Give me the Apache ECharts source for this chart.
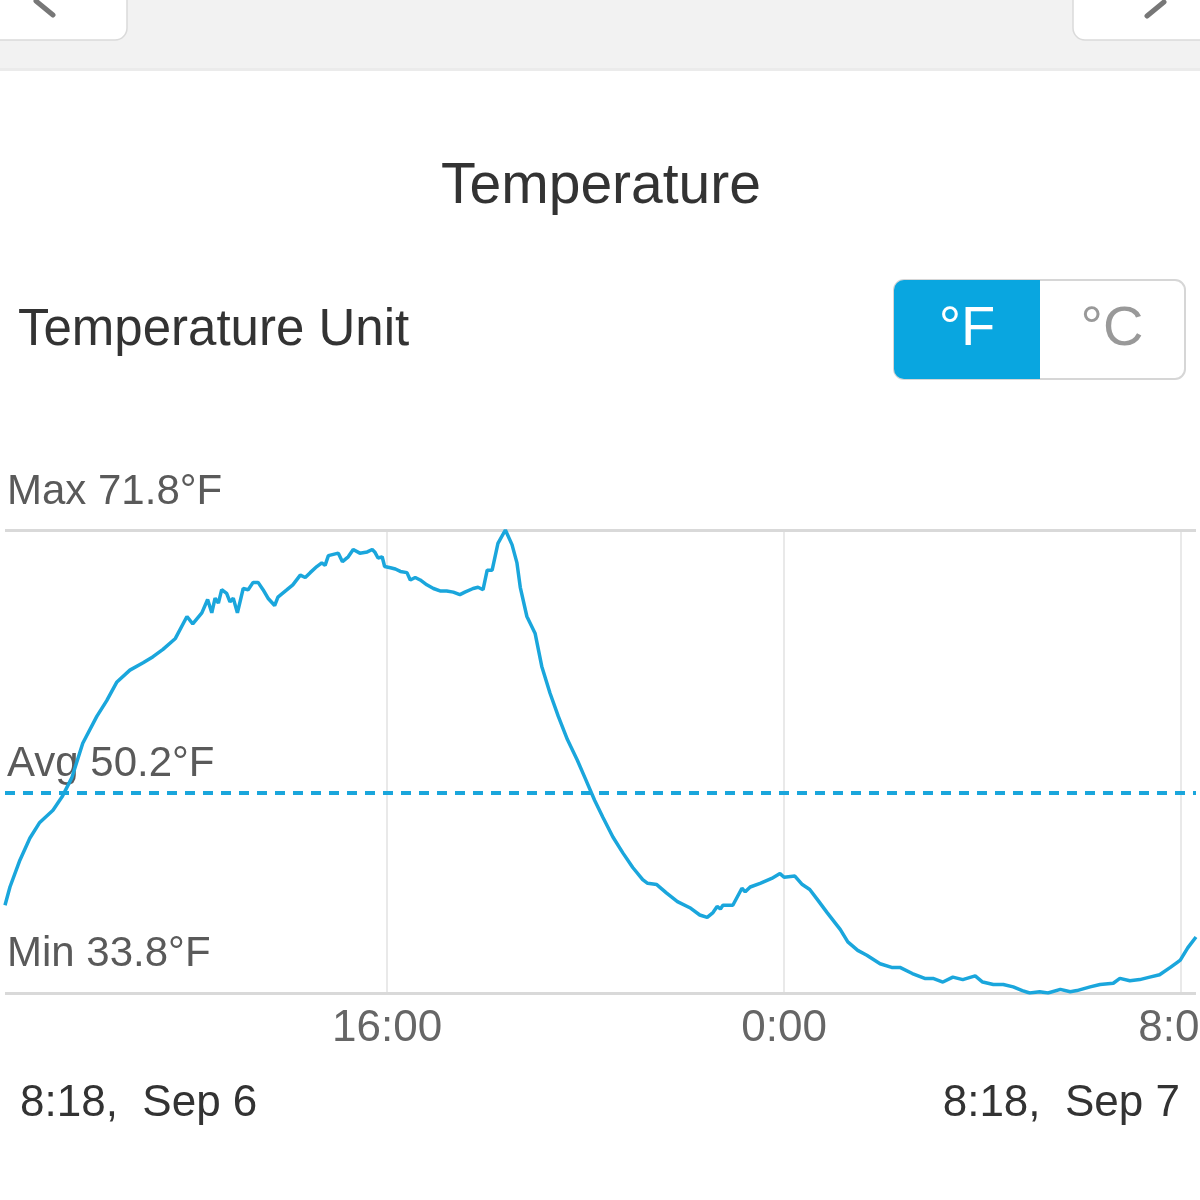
<!DOCTYPE html>
<html>
<head>
<meta charset="utf-8">
<script src="https://cdn.jsdelivr.net/npm/echarts@6/dist/echarts.min.js"></script>
<style>
  html, body { margin: 0; padding: 0; background: #fff; }
  #chart { width: 1200px; height: 1200px; }
</style>
</head>
<body>
<div id="chart"></div>
<script>
// minutes after 8:18, Sep 6
const minutes = [
  0, 6, 18, 30, 42, 58, 69, 81, 94, 111,
  123, 135, 151, 167, 179, 191, 206, 220, 227, 238,
  245, 250, 254, 258, 262, 268, 272, 276, 281, 288,
  294, 300, 306, 312, 318, 326, 330, 341, 348, 357,
  363, 369, 377, 383, 387, 391, 403, 408, 415, 421,
  429, 438, 444, 447, 451, 456, 459, 466, 472, 478,
  486, 490, 496, 502, 510, 518, 526, 534, 542, 550,
  556, 566, 572, 578, 583, 589, 596, 605, 613, 619,
  623, 631, 641, 649, 659, 669, 680, 692, 701, 713,
  723, 735, 747, 759, 771, 777, 788, 800, 813, 828,
  840, 849, 856, 861, 865, 868, 880, 891, 895, 901,
  913, 927, 937, 942, 955, 964, 973, 983, 994, 1010,
  1019, 1031, 1042, 1058, 1072, 1082, 1097, 1112, 1122, 1134,
  1146, 1158, 1173, 1182, 1195, 1207, 1219, 1230, 1239, 1251,
  1261, 1276, 1288, 1296, 1312, 1324, 1340, 1348, 1360, 1372,
  1384, 1396, 1409, 1417, 1421, 1430, 1440
];
// temperature, °F
const tempF = [
  41.0, 42.5, 44.7, 46.5, 47.8, 48.8, 49.9, 51.5, 54.3, 56.5,
  57.8, 59.3, 60.3, 60.9, 61.4, 62.0, 62.9, 64.7, 64.1, 65.0,
  66.1, 65.0, 66.2, 65.8, 66.9, 66.6, 65.9, 66.2, 65.0, 67.0,
  66.9, 67.5, 67.5, 66.9, 66.2, 65.6, 66.3, 66.9, 67.3, 68.1,
  67.9, 68.3, 68.8, 69.1, 68.9, 69.7, 69.9, 69.2, 69.6, 70.2,
  69.9, 70.0, 70.2, 70.0, 69.5, 69.6, 68.8, 68.7, 68.6, 68.4,
  68.3, 67.7, 67.9, 67.7, 67.3, 67.0, 66.8, 66.8, 66.7, 66.5,
  66.7, 67.0, 67.1, 66.9, 68.5, 68.5, 70.7, 71.8, 70.6, 69.1,
  67.1, 64.7, 63.3, 60.6, 58.4, 56.5, 54.6, 52.9, 51.5, 49.6,
  48.2, 46.6, 45.3, 44.1, 43.1, 42.8, 42.7, 42.0, 41.3, 40.8,
  40.2, 40.0, 40.4, 40.9, 40.7, 41.0, 41.0, 42.4, 42.1, 42.5,
  42.8, 43.2, 43.6, 43.3, 43.4, 42.7, 42.3, 41.4, 40.4, 39.0,
  38.0, 37.3, 36.9, 36.2, 35.9, 35.9, 35.4, 35.0, 35.0, 34.7,
  35.1, 34.9, 35.2, 34.7, 34.5, 34.5, 34.3, 34.0, 33.8, 33.9,
  33.8, 34.1, 33.9, 34.0, 34.3, 34.5, 34.6, 35.0, 34.8, 34.9,
  35.1, 35.3, 35.9, 36.3, 36.5, 37.5, 38.4
];
const tickMinutes = [462, 942, 1422];
const tickLabels = ['16:00', '0:00', '8:00'];
const maxF = 71.8;
const avgF = 50.2;
const minF = 33.8;
const startLabel = '8:18,  Sep 6';
const endLabel = '8:18,  Sep 7';

const font = '"Liberation Sans", Arial, sans-serif';
const blue = '#1aa6dc';

let myChart = echarts.init(document.getElementById('chart'));

// text sitting just above a guide line
const guideLabel = function (txt, gap) {
  return {
    show: true,
    position: 'insideStartTop',
    formatter: txt,
    fontSize: 42,
    color: '#5a5a5a',
    fontFamily: font,
    distance: [2, gap]
  };
};

myChart.setOption({
  animation: false,
  backgroundColor: '#fff',
  textStyle: { fontFamily: font },
  grid: { left: 5, right: 4, top: 530, bottom: 207, outerBoundsMode: 'none', containLabel: false },
  xAxis: {
    type: 'value',
    min: 0,
    max: 1440,
    axisLine: { show: false },
    axisTick: { show: false },
    splitLine: { show: false },
    axisLabel: {
      customValues: tickMinutes,
      formatter: function (v) {
        return tickLabels[tickMinutes.indexOf(v)];
      },
      fontSize: 44,
      color: '#666',
      margin: 14,
      fontFamily: font
    }
  },
  yAxis: {
    type: 'value',
    min: minF,
    max: maxF,
    show: false,
    splitLine: { show: false }
  },
  series: [{
    type: 'line',
    data: minutes.map((m, i) => [m, tempF[i]]),
    symbol: 'none',
    lineStyle: { color: blue, width: 3.5 },
    z: 3,
    markLine: {
      silent: true,
      symbol: ['none', 'none'],
      z: 2,
      data: [
        ...tickMinutes.map(m => ({
          xAxis: m,
          label: { show: false },
          lineStyle: { color: '#e2e2e2', width: 1.5, type: 'solid' }
        })),
        { yAxis: maxF, label: guideLabel('Max ' + maxF + '°F', 17),
          lineStyle: { color: '#d9d9d9', width: 3, type: 'solid' } },
        { yAxis: minF, label: guideLabel('Min ' + minF + '°F', 18),
          lineStyle: { color: '#d9d9d9', width: 3, type: 'solid' } },
        { yAxis: avgF, label: guideLabel('Avg ' + avgF + '°F', 8),
          lineStyle: { color: blue, width: 4, type: [10, 8] } }
      ]
    }
  }],
  graphic: [
    // top bar
    { type: 'rect', shape: { x: 0, y: 0, width: 1200, height: 70 }, style: { fill: '#f2f2f2' } },
    { type: 'rect', shape: { x: 0, y: 68, width: 1200, height: 3 }, style: { fill: '#ebebeb' } },
    { type: 'rect', shape: { x: -20, y: -20, width: 147, height: 60, r: 12 },
      style: { fill: '#fff', stroke: '#dadada', lineWidth: 1.5 } },
    { type: 'rect', shape: { x: 1073, y: -20, width: 160, height: 60, r: 12 },
      style: { fill: '#fff', stroke: '#dadada', lineWidth: 1.5 } },
    { type: 'polyline', shape: { points: [[36, 1], [53, 15]] },
      style: { stroke: '#777', lineWidth: 5, lineCap: 'round', fill: null } },
    { type: 'polyline', shape: { points: [[1147, 16], [1164, 2]] },
      style: { stroke: '#777', lineWidth: 5, lineCap: 'round', fill: null } },
    // title
    { type: 'text', x: 601, y: 187,
      style: { text: 'Temperature', fontSize: 57, fill: '#333', align: 'center', verticalAlign: 'middle', fontFamily: font } },
    { type: 'text', x: 18, y: 331,
      style: { text: 'Temperature Unit', fontSize: 51, fill: '#333', align: 'left', verticalAlign: 'middle', fontFamily: font } },
    // unit toggle
    { type: 'rect', shape: { x: 894, y: 280, width: 291, height: 99, r: 10 },
      style: { fill: '#fff', stroke: '#d6d6d6', lineWidth: 2 } },
    { type: 'rect', shape: { x: 894, y: 280, width: 146, height: 99, r: [10, 0, 0, 10] },
      style: { fill: '#09a6e0' } },
    { type: 'text', x: 967, y: 330,
      style: { text: '°F', fontSize: 56, fill: '#fff', align: 'center', verticalAlign: 'middle', fontFamily: font } },
    { type: 'text', x: 1112, y: 330,
      style: { text: '°C', fontSize: 56, fill: '#999', align: 'center', verticalAlign: 'middle', fontFamily: font } },
    // range
    { type: 'text', x: 20, y: 1104,
      style: { text: startLabel, fontSize: 44, fill: '#333', align: 'left', verticalAlign: 'middle', fontFamily: font } },
    { type: 'text', x: 1180, y: 1104,
      style: { text: endLabel, fontSize: 44, fill: '#333', align: 'right', verticalAlign: 'middle', fontFamily: font } }
  ]
});
</script>
</body>
</html>
